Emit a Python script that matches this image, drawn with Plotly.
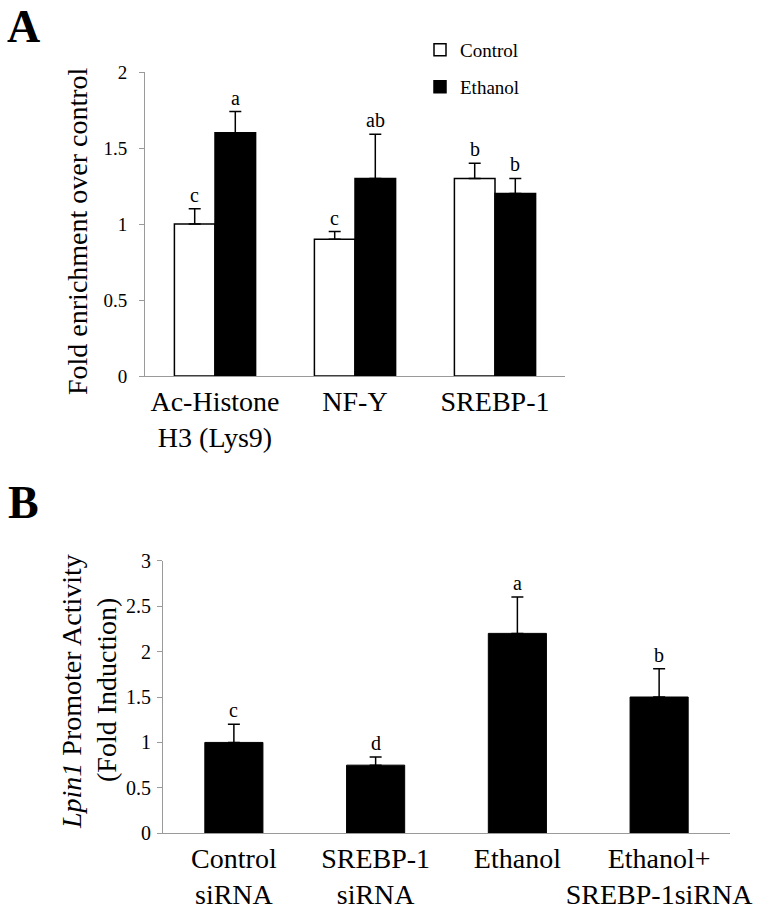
import plotly.graph_objects as go

FONT = "Liberation Serif"
W, H = 769, 914

# Panel A data
a_categories = ["Ac-Histone<br>H3 (Lys9)", "NF-Y", "SREBP-1"]
a_control = [1.0, 0.9, 1.3]
a_control_err = [0.1, 0.05, 0.1]
a_ethanol = [1.6, 1.3, 1.2]
a_ethanol_err = [0.14, 0.29, 0.1]
a_control_letters = ["c", "c", "b"]
a_ethanol_letters = ["a", "ab", "b"]
a_ticks = [0, 0.5, 1, 1.5, 2]

# Panel B data
b_categories = ["Control<br>siRNA", "SREBP-1<br>siRNA", "Ethanol", "Ethanol+<br>SREBP-1siRNA"]
b_values = [1.0, 0.75, 2.2, 1.5]
b_err = [0.2, 0.09, 0.4, 0.31]
b_letters = ["c", "d", "a", "b"]
b_ticks = [0, 0.5, 1, 1.5, 2, 2.5, 3]

def px_x(p):
    return p / W

def px_y(p):
    return 1 - p / H

fig = go.Figure()
bw = 0.29
xa = list(range(len(a_categories)))

fig.add_trace(go.Bar(
    x=xa, y=a_control, width=bw, offset=-bw, name="Control",
    marker=dict(color="white", line=dict(color="black", width=1.5)),
    error_y=dict(type="data", array=a_control_err, arrayminus=[0]*3, symmetric=False,
                 color="black", thickness=1.5, width=6),
    xaxis="x", yaxis="y", legend="legend", showlegend=True))
fig.add_trace(go.Bar(
    x=xa, y=a_ethanol, width=bw, offset=0, name="Ethanol",
    marker=dict(color="black", line=dict(color="black", width=1.5)),
    error_y=dict(type="data", array=a_ethanol_err, arrayminus=[0]*3, symmetric=False,
                 color="black", thickness=1.5, width=6),
    xaxis="x", yaxis="y", legend="legend2", showlegend=True))

xb = list(range(len(b_categories)))
fig.add_trace(go.Bar(
    x=xb, y=b_values, width=0.41, name="B",
    marker=dict(color="black", line=dict(color="black", width=1)),
    error_y=dict(type="data", array=b_err, arrayminus=[0]*4, symmetric=False,
                 color="black", thickness=1.5, width=6),
    xaxis="x2", yaxis="y2", showlegend=False))

annotations = []
for i in xa:
    annotations.append(dict(x=i - bw/2, y=a_control[i] + a_control_err[i], xref="x", yref="y",
                            text=a_control_letters[i], showarrow=False, yanchor="bottom", yshift=1,
                            font=dict(size=20, family=FONT, color="black")))
    annotations.append(dict(x=i + bw/2, y=a_ethanol[i] + a_ethanol_err[i], xref="x", yref="y",
                            text=a_ethanol_letters[i], showarrow=False, yanchor="bottom", yshift=1,
                            font=dict(size=20, family=FONT, color="black")))
for i in xb:
    annotations.append(dict(x=i, y=b_values[i] + b_err[i], xref="x2", yref="y2",
                            text=b_letters[i], showarrow=False, yanchor="bottom", yshift=1,
                            font=dict(size=20, family=FONT, color="black")))

annotations += [
    dict(x=px_x(6), y=px_y(0), xref="paper", yref="paper", text="<b>A</b>", showarrow=False,
         xanchor="left", yanchor="top", borderpad=0,
         font=dict(size=46, family=FONT, color="black")),
    dict(x=px_x(6), y=px_y(475), xref="paper", yref="paper", text="<b>B</b>", showarrow=False,
         xanchor="left", yanchor="top", font=dict(size=46, family=FONT, color="black")),
    dict(x=px_x(78), y=px_y(231), xref="paper", yref="paper", text="Fold enrichment over control",
         showarrow=False, textangle=-90, xanchor="center", yanchor="middle",
         font=dict(size=28, family=FONT, color="black")),
    dict(x=px_x(71), y=px_y(692), xref="paper", yref="paper",
         text="<i>Lpin1</i> Promoter Activity",
         showarrow=False, textangle=-90, xanchor="center", yanchor="middle",
         font=dict(size=28, family=FONT, color="black")),
    dict(x=px_x(106), y=px_y(690), xref="paper", yref="paper",
         text="(Fold Induction)",
         showarrow=False, textangle=-90, xanchor="center", yanchor="middle",
         font=dict(size=28, family=FONT, color="black")),
]

axis_common = dict(showgrid=False, zeroline=False, showline=True, linecolor="#9a9a9a",
                   linewidth=1, automargin=False, fixedrange=True)

fig.update_layout(
    width=W, height=H,
    margin=dict(l=0, r=0, t=0, b=0),
    paper_bgcolor="white", plot_bgcolor="white",
    font=dict(family=FONT, color="black"),
    barmode="overlay",
    xaxis=dict(domain=[px_x(145), px_x(565)], range=[-0.5, 2.5], anchor="y",
               tickvals=xa, ticktext=a_categories, ticks="",
               tickfont=dict(size=28, family=FONT, color="black"), **axis_common),
    yaxis=dict(domain=[px_y(376), px_y(72)], range=[0, 2], anchor="x",
               tickvals=a_ticks, ticktext=[f"{t:g}" for t in a_ticks], ticks="outside",
               ticklen=5, tickcolor="#9a9a9a", ticklabelstandoff=8,
               tickfont=dict(size=19, family=FONT, color="black"), **axis_common),
    xaxis2=dict(domain=[px_x(163), px_x(730)], range=[-0.5, 3.5], anchor="y2",
                tickvals=xb, ticktext=b_categories, ticks="",
                tickfont=dict(size=28, family=FONT, color="black"), **axis_common),
    yaxis2=dict(domain=[px_y(833.3), px_y(560.7)], range=[0, 3], anchor="x2",
                tickvals=b_ticks, ticktext=[f"{t:g}" for t in b_ticks], ticks="outside",
                ticklen=5, tickcolor="#9a9a9a", ticklabelstandoff=2,
                tickfont=dict(size=20, family=FONT, color="black"), **axis_common),
    legend=dict(x=px_x(420), y=px_y(50), xanchor="left", yanchor="middle",
                font=dict(size=19, family=FONT, color="black"), bgcolor="rgba(0,0,0,0)",
                itemclick=False, itemdoubleclick=False),
    legend2=dict(x=px_x(420), y=px_y(87), xanchor="left", yanchor="middle",
                 font=dict(size=19, family=FONT, color="black"), bgcolor="rgba(0,0,0,0)",
                 itemclick=False, itemdoubleclick=False),
    annotations=annotations,
)

fig.write_html("out.html", config={"displayModeBar": False},
               post_script="document.body.style.margin='0px';")
